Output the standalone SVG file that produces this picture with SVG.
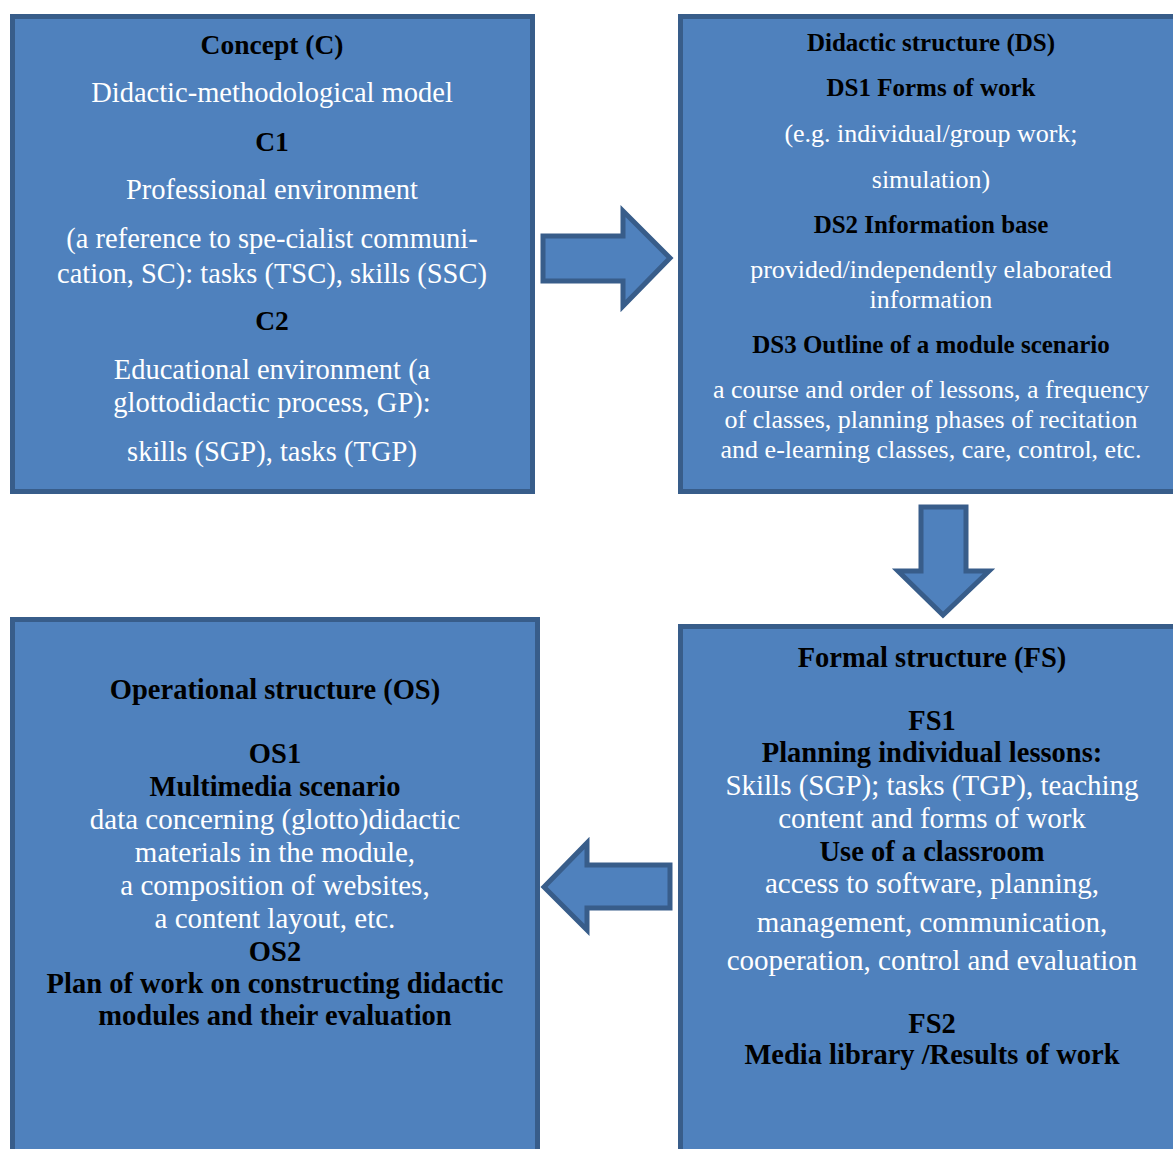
<svg xmlns="http://www.w3.org/2000/svg" width="1173" height="1149" viewBox="0 0 1173 1149">
<style>
.box{fill:#4F81BD;stroke:#385D8A;stroke-width:5}
.arr{fill:#4F81BD;stroke:#385D8A;stroke-width:5;stroke-linejoin:miter}
text{font-family:"Liberation Serif","Times New Roman",serif;text-anchor:middle}
.h{font-weight:bold;fill:#000}
.b{fill:#fff}
.c{font-size:28.5px}
.ch{font-size:27.5px}
.d{font-size:26px}
.dh{font-size:25px}
.o{font-size:29px}
.oh{font-size:28.5px}
</style>
<rect width="1173" height="1149" fill="#fff"/>
<g id="concept">
<rect class="box" x="12.5" y="16.5" width="520" height="475"/>
<text class="h ch" x="272" y="54">Concept (C)</text>
<text class="b c" x="272" y="102">Didactic-methodological model</text>
<text class="h ch" x="272" y="151">C1</text>
<text class="b c" x="272" y="199">Professional environment</text>
<text class="b c" x="272" y="248">(a reference to spe-cialist communi-</text>
<text class="b c" x="272" y="283">cation, SC): tasks (TSC), skills (SSC)</text>
<text class="h ch" x="272" y="330">C2</text>
<text class="b c" x="272" y="379">Educational environment (a</text>
<text class="b c" x="272" y="412">glottodidactic process, GP):</text>
<text class="b c" x="272" y="461">skills (SGP), tasks (TGP)</text>
</g>
<g id="didactic">
<rect class="box" x="680.5" y="16.5" width="500" height="475"/>
<text class="h dh" x="931" y="51">Didactic structure (DS)</text>
<text class="h dh" x="931" y="96">DS1 Forms of work</text>
<text class="b d" x="931" y="142">(e.g. individual/group work;</text>
<text class="b d" x="931" y="188">simulation)</text>
<text class="h dh" x="931" y="233">DS2 Information base</text>
<text class="b d" x="931" y="278">provided/independently elaborated</text>
<text class="b d" x="931" y="308">information</text>
<text class="h dh" x="931" y="353">DS3 Outline of a module scenario</text>
<text class="b d" x="931" y="398">a course and order of lessons, a frequency</text>
<text class="b d" x="931" y="428">of classes, planning phases of recitation</text>
<text class="b d" x="931" y="458">and e-learning classes, care, control, etc.</text>
</g>
<g id="formal">
<rect class="box" x="680.5" y="626.5" width="500" height="540"/>
<text class="h oh" x="932" y="667">Formal structure (FS)</text>
<text class="h oh" x="932" y="730">FS1</text>
<text class="h oh" x="932" y="762">Planning individual lessons:</text>
<text class="b o" x="932" y="795">Skills (SGP); tasks (TGP), teaching</text>
<text class="b o" x="932" y="828">content and forms of work</text>
<text class="h oh" x="932" y="861">Use of a classroom</text>
<text class="b o" x="932" y="893">access to software, planning,</text>
<text class="b o" x="932" y="932">management, communication,</text>
<text class="b o" x="932" y="970">cooperation, control and evaluation</text>
<text class="h oh" x="932" y="1033">FS2</text>
<text class="h oh" x="932" y="1064">Media library /Results of work</text>
</g>
<g id="operational">
<rect class="box" x="12.5" y="619.5" width="525" height="545"/>
<text class="h oh" x="275" y="699">Operational structure (OS)</text>
<text class="h oh" x="275" y="763">OS1</text>
<text class="h oh" x="275" y="796">Multimedia scenario</text>
<text class="b o" x="275" y="829">data concerning (glotto)didactic</text>
<text class="b o" x="275" y="862">materials in the module,</text>
<text class="b o" x="275" y="895">a composition of websites,</text>
<text class="b o" x="275" y="928">a content layout, etc.</text>
<text class="h oh" x="275" y="961">OS2</text>
<text class="h oh" x="275" y="993">Plan of work on constructing didactic</text>
<text class="h oh" x="275" y="1025">modules and their evaluation</text>
</g>
<g id="connectors">
<polygon class="arr" points="543,236 623,236 623,211 670,258 623,306 623,281 543,281"/>
<polygon class="arr" points="921,507 966,507 966,571 989,571 943,615 898,571 921,571"/>
<polygon class="arr" points="544,887 587,843 587,865 670,865 670,908 587,908 587,930"/>
</g>
</svg>
